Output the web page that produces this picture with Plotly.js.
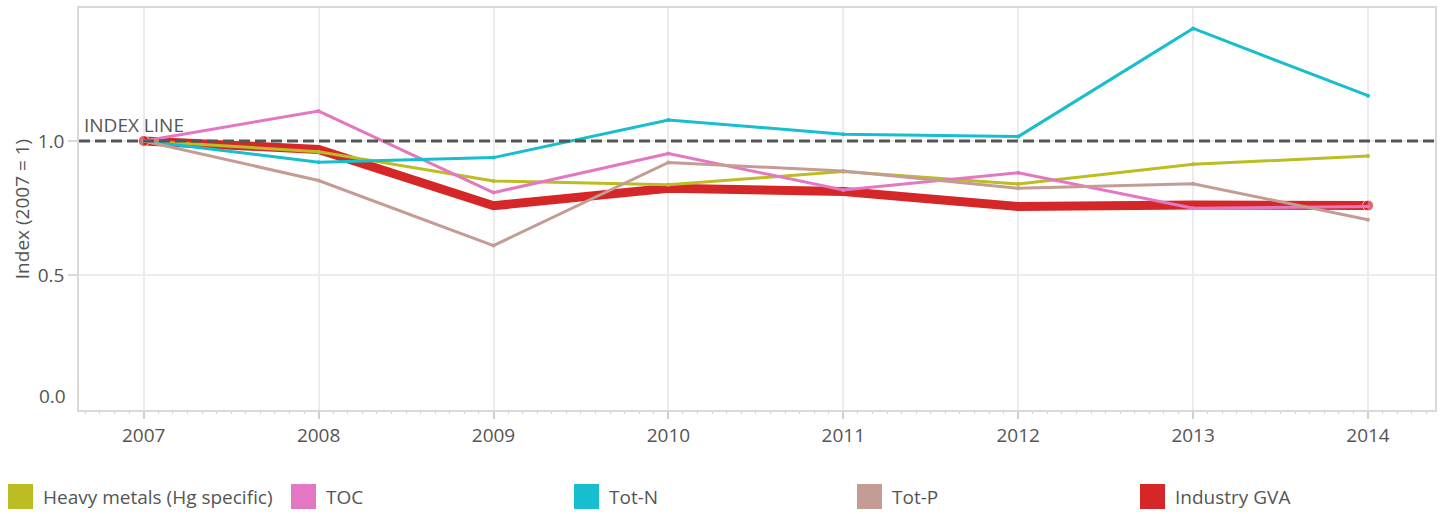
<!DOCTYPE html>
<html>
<head>
<meta charset="utf-8">
<script src="https://cdn.plot.ly/plotly-3.0.1.min.js"></script>
<style>html,body{margin:0;padding:0;background:#fff;}#chart{width:1440px;height:514px;}</style>
</head>
<body>
<div id="chart"></div>
<script>
const years = [2007, 2008, 2009, 2010, 2011, 2012, 2013, 2014];
const heavyMetals = [1.0, 0.96, 0.851, 0.837, 0.886, 0.840, 0.913, 0.944];
const toc = [1.0, 1.111, 0.808, 0.953, 0.818, 0.882, 0.750, 0.756];
const totN = [1.0, 0.921, 0.938, 1.078, 1.025, 1.016, 1.418, 1.168];
const totP = [1.0, 0.853, 0.611, 0.920, 0.888, 0.824, 0.841, 0.707];
const industryGVA = [1.0, 0.968, 0.759, 0.824, 0.812, 0.756, 0.762, 0.760];
const seriesNames = ["Heavy metals (Hg specific)", "TOC", "Tot-N", "Tot-P", "Industry GVA"];
const seriesColors = ["#bcbd22", "#e377c2", "#17becf", "#c49c94", "#d62728"];
const yTickVals = [0.5, 1.0];
const yTickText = ["0.5", "1.0"];
const indexValue = 1.0;

const FONT = "'Open Sans', sans-serif";
const TXT = "#555555";

const seriesData = [heavyMetals, toc, totN, totP, industryGVA];

function thinTrace(i) {
  return {
    x: years, y: seriesData[i], name: seriesNames[i], type: "scatter", mode: "lines+markers",
    line: {color: seriesColors[i], width: 3},
    marker: {color: seriesColors[i], size: 4},
    showlegend: false, hoverinfo: "x+y+name"
  };
}
const last = years.length - 1;
const traces = [
  {
    x: years, y: industryGVA, name: seriesNames[4], type: "scatter", mode: "lines+markers",
    line: {color: seriesColors[4], width: 9},
    marker: {color: seriesColors[4], size: years.map((_, i) => (i === 0 || i === last) ? 11 : 0)},
    showlegend: false
  },
  thinTrace(0), thinTrace(1), thinTrace(2), thinTrace(3)
];

const shapes = [{
  type: "line", xref: "paper", x0: 0, x1: 1, yref: "y", y0: indexValue, y1: indexValue,
  line: {color: "#555555", width: 3, dash: "11px,5px"}, layer: "above"
}];
const annotations = [
  {xref: "paper", x: 0, xanchor: "left", xshift: 3, yref: "y", y: indexValue, yanchor: "bottom", yshift: 1,
   text: "INDEX LINE", showarrow: false, font: {family: FONT, size: 19, color: TXT}},
  {xref: "paper", x: 0, xanchor: "right", xshift: -11, yref: "y", y: 0, yanchor: "middle", yshift: 14,
   text: "0.0", showarrow: false, font: {family: FONT, size: 19, color: TXT}}
];

// manual legend
const legendOrder = [0, 1, 2, 3, 4];
const legStart = 8, legStep = 283, legTop = 484, legSize = 25;
legendOrder.forEach((i, k) => {
  const xl = legStart + k * legStep;
  shapes.push({
    type: "rect", xref: "paper", yref: "paper",
    x0: (xl - 79) / 1356, x1: (xl + legSize - 79) / 1356,
    y0: (410 - (legTop + legSize)) / 402, y1: (410 - legTop) / 402,
    fillcolor: seriesColors[i], line: {width: 0}
  });
  annotations.push({
    xref: "paper", yref: "paper", x: (xl + legSize + 8 - 79) / 1356, xanchor: "left",
    y: (410 - (legTop + legSize / 2)) / 402, yanchor: "middle",
    text: seriesNames[i], showarrow: false, font: {family: FONT, size: 19, color: TXT}
  });
});

const layout = {
  width: 1440, height: 514,
  margin: {l: 79, r: 5, t: 8, b: 104},
  paper_bgcolor: "#ffffff", plot_bgcolor: "#ffffff",
  font: {family: FONT, color: TXT, size: 19},
  showlegend: false,
  xaxis: {
    range: [2006.63, 2014.383], tickmode: "array", tickvals: years, ticktext: years.map(String),
    showgrid: true, gridcolor: "#ececec", gridwidth: 1.5,
    showline: true, linecolor: "#d9d9d9", linewidth: 1.5, mirror: true,
    ticks: "outside", ticklen: 7, tickcolor: "#cfcfcf", tickwidth: 1.5,
    minor: {dtick: 1 / 12, ticks: "outside", ticklen: 2, tickcolor: "#cfcfcf", tickwidth: 1, showgrid: false},
    zeroline: false, tickfont: {family: FONT, size: 19, color: TXT}, fixedrange: true
  },
  yaxis: {
    range: [0, 1.494], tickmode: "array", tickvals: yTickVals, ticktext: yTickText,
    showgrid: true, gridcolor: "#ececec", gridwidth: 1.5,
    showline: true, linecolor: "#d9d9d9", linewidth: 1.5, mirror: true,
    ticks: "outside", ticklen: 9, tickcolor: "#d9d9d9", tickwidth: 1.5,
    zeroline: false, tickfont: {family: FONT, size: 19, color: TXT},
    title: {text: "Index (2007 = 1)", font: {family: FONT, size: 19, color: TXT}, standoff: 3}
  },
  shapes: shapes,
  annotations: annotations
};

Plotly.newPlot("chart", traces, layout, {displayModeBar: false, staticPlot: false});
</script>
</body>
</html>
